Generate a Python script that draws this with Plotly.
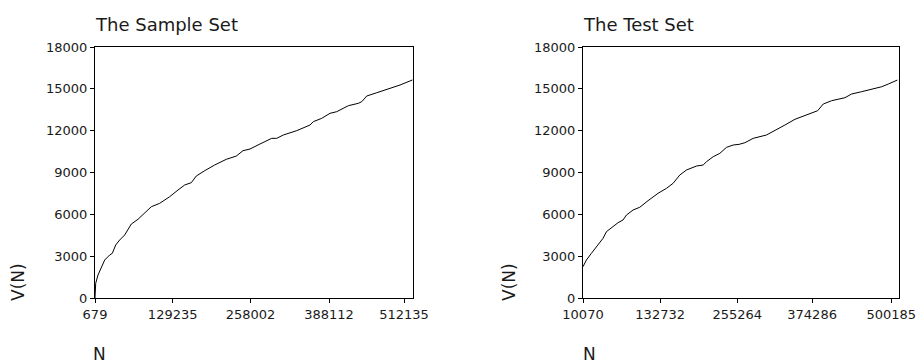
import plotly.graph_objects as go

# ---- data ----
sample_n = [679, 1840, 5640, 11110, 16730, 25010, 29310, 34940, 41560, 49840,
            55300, 60760, 71850, 82940, 93870, 107770, 124320, 138060, 149150,
            160070, 168350, 182250, 198800, 217990, 234550, 245640, 257240,
            273790, 293160, 301440, 312360, 334540, 356560, 362020, 375920,
            389660, 400740, 419940, 436490, 442120, 450400, 466950, 488960,
            505510, 526040]
sample_v = [0, 1054, 1650, 2245, 2725, 3085, 3205, 3800, 4160, 4520,
            4875, 5305, 5645, 6075, 6545, 6790, 7265, 7745, 8105,
            8270, 8750, 9130, 9540, 9945, 10180, 10565, 10685,
            11045, 11450, 11450, 11690, 12000, 12405, 12645, 12885,
            13245, 13360, 13790, 13960, 14075, 14485, 14720, 15035,
            15275, 15635]

test_n = [10070, 15480, 23440, 33940, 41900, 47310, 57810, 65770, 73720, 79130,
          89630, 100300, 113510, 129420, 142780, 153290, 163950, 174610,
          190530, 201030, 206440, 216940, 227600, 238260, 248770, 258300,
          267380, 280590, 301800, 315130, 331040, 346960, 357560, 370820,
          383080, 391980, 405280, 426490, 437100, 453000, 468940, 484840,
          495440, 509780]
test_v = [2245, 2725, 3205, 3800, 4280, 4755, 5115, 5400, 5595, 5950,
          6310, 6505, 6980, 7510, 7865, 8225, 8820, 9180,
          9465, 9535, 9775, 10130, 10375, 10805, 10970, 11020,
          11135, 11450, 11690, 12000, 12405, 12815, 13000, 13245,
          13430, 13910, 14150, 14365, 14630, 14795, 14965, 15150,
          15345, 15630]

sample_xticks = [679, 129235, 258002, 388112, 512135]
test_xticks = [10070, 132732, 255264, 374286, 500185]
y_ticks = [0, 3000, 6000, 9000, 12000, 15000, 18000]

titles = ["The Sample Set", "The Test Set"]
x_label = "N"
y_label = "V(N)"

W, H = 918, 363
FONT = "DejaVu Sans"
TXT = "#1a1a1a"

def px(x):
    return x / W

def py(y):
    return 1 - y / H

fig = go.Figure()
fig.add_trace(go.Scatter(x=sample_n, y=sample_v, mode="lines",
                         line=dict(color="black", width=1), xaxis="x", yaxis="y",
                         showlegend=False, hoverinfo="skip"))
fig.add_trace(go.Scatter(x=test_n, y=test_v, mode="lines",
                         line=dict(color="black", width=1), xaxis="x2", yaxis="y2",
                         showlegend=False, hoverinfo="skip"))

common_axis = dict(showgrid=False, zeroline=False, showline=True, linecolor="black",
                   linewidth=1, mirror=True, ticks="outside", ticklen=4,
                   tickcolor="black", automargin=False,
                   tickfont=dict(family=FONT, size=13, color=TXT))

ydom = [py(298), py(47)]
fig.update_layout(
    width=W, height=H, autosize=False, margin=dict(l=0, r=0, t=0, b=0, pad=0),
    paper_bgcolor="white", plot_bgcolor="white",
    xaxis=dict(domain=[px(95), px(413)], range=[679, 527000],
               tickvals=sample_xticks, ticktext=[str(v) for v in sample_xticks],
               anchor="y", **common_axis),
    yaxis=dict(domain=ydom, range=[0, 18000], tickvals=y_ticks,
               ticktext=[str(v) for v in y_ticks], anchor="x", **common_axis),
    xaxis2=dict(domain=[px(583), px(899)], range=[10070, 512400],
                tickvals=test_xticks, ticktext=[str(v) for v in test_xticks],
                anchor="y2", **common_axis),
    yaxis2=dict(domain=ydom, range=[0, 18000], tickvals=y_ticks,
                ticktext=[str(v) for v in y_ticks], anchor="x2", **common_axis),
)

ann = []
for title, xl in zip(titles, [95, 583]):
    ann.append(dict(text=title, x=px(xl - 2), y=py(24), xref="paper", yref="paper",
                    xanchor="left", yanchor="middle", showarrow=False,
                    font=dict(family=FONT, size=18, color=TXT)))
for xv, xn in [(18, 99), (509, 589)]:
    ann.append(dict(text=y_label, x=px(xv), y=py(282), xref="paper", yref="paper",
                    xanchor="center", yanchor="middle", showarrow=False, textangle=-90,
                    font=dict(family=FONT, size=17, color=TXT)))
    ann.append(dict(text=x_label, x=px(xn), y=py(354), xref="paper", yref="paper",
                    xanchor="center", yanchor="middle", showarrow=False,
                    font=dict(family=FONT, size=17, color=TXT)))
fig.update_layout(annotations=ann)

fig.write_html("out.html")
